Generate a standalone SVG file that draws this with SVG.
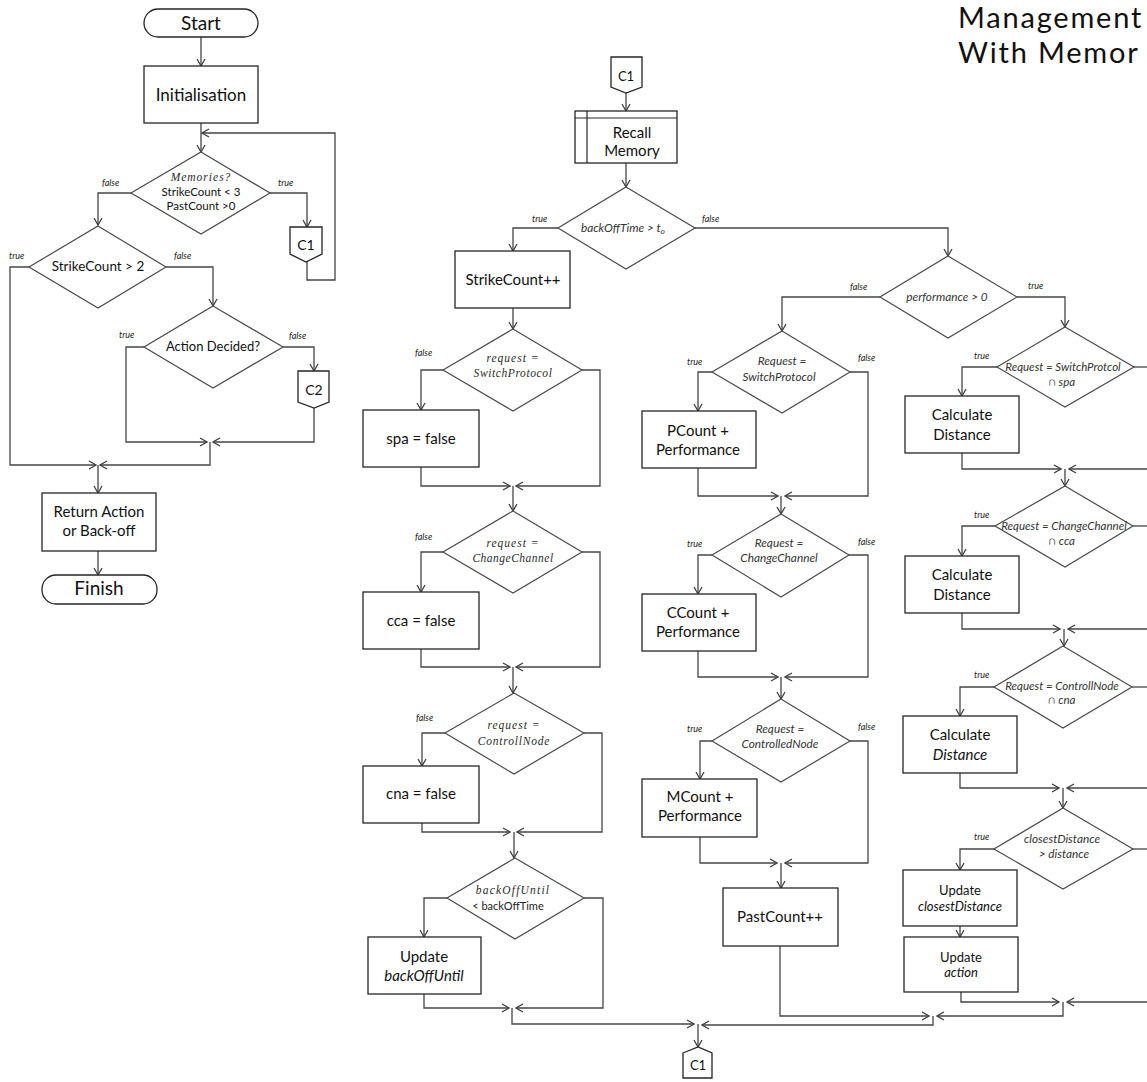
<svg xmlns="http://www.w3.org/2000/svg" width="1147" height="1082" viewBox="0 0 1147 1082">
  <defs>
    <marker id="arrow" viewBox="0 0 10 10" refX="9" refY="5" markerWidth="10" markerHeight="10" markerUnits="userSpaceOnUse" orient="auto">
      <path d="M2,1 L9,5 L2,9" fill="none" stroke="#404040" stroke-width="1.3"/>
    </marker>
    <style>
      .box { fill: #ffffff; stroke: #262626; stroke-width: 1.3; }
      .dia { fill: #ffffff; stroke: #4a4a4a; stroke-width: 1.2; }
      .con path { fill: none; stroke: #454545; stroke-width: 1.3; }
      .con .a { marker-end: url(#arrow); }
      text { font-family: Lato, "Open Sans", sans-serif; fill: #111111; text-anchor: middle; }
      .t { font-size: 15px; }
      .big { font-size: 19px; }
      .it { font-style: italic; }
      .d { font-size: 11.8px; font-style: italic; fill: #333333; }
      .dr { font-size: 11.5px; font-style: italic; fill: #333333; }
      .m { font-family: "Liberation Serif", "DejaVu Serif", serif; font-size: 11.5px; font-style: italic; letter-spacing: 1px; fill: #2a2a2a; }
      .tf { font-size: 9px; font-style: italic; text-anchor: start; fill: #222222; }
      .title { font-size: 29px; letter-spacing: 1.8px; text-anchor: start; fill: #111111; }
    </style>
  </defs>
  <rect width="1147" height="1082" fill="#ffffff"/>

  <!-- heading (runs past the right edge) -->
  <text class="title" x="958" y="28">Management</text>
  <text class="title" x="958" y="63">With Memor</text>

  <!-- connectors -->
  <g id="connectors" class="con">
    <!-- main routine -->
    <path class="a" d="M201,37 V66"/>
    <path class="a" d="M201,123 V152"/>
    <path class="a" d="M131,193 H98 V225"/>
    <path class="a" d="M270,193 H307 V227"/>
    <path class="a" d="M307,262 V280 H335 V133 H202"/>
    <path class="a" d="M29,267 H10 V465 H96"/>
    <path class="a" d="M166,267 H213 V306"/>
    <path class="a" d="M144,347 H126 V442 H207"/>
    <path class="a" d="M283,347 H314 V371"/>
    <path class="a" d="M314,408 V442 H213"/>
    <path class="a" d="M210,442 V465 H100"/>
    <path class="a" d="M98,465 V493"/>
    <path class="a" d="M98,551 V575"/>

    <!-- recall memory -->
    <path class="a" d="M626,93 V111"/>
    <path class="a" d="M626,163 V187"/>
    <path class="a" d="M558,228 H513 V251"/>
    <path class="a" d="M695,228 H948 V256"/>

    <!-- strike branch -->
    <path class="a" d="M513,308 V329"/>
    <path class="a" d="M443,370 H421 V410"/>
    <path class="a" d="M582,370 H600 V486 H516"/>
    <path class="a" d="M421,467 V486 H510"/>
    <path class="a" d="M513,486 V511"/>
    <path class="a" d="M443,552 H421 V592"/>
    <path class="a" d="M582,552 H600 V667 H516"/>
    <path class="a" d="M421,649 V667 H510"/>
    <path class="a" d="M513,667 V693"/>
    <path class="a" d="M445,733 H422 V766"/>
    <path class="a" d="M584,733 H602 V832 H517"/>
    <path class="a" d="M422,823 V832 H510"/>
    <path class="a" d="M514,832 V858"/>
    <path class="a" d="M447,898 H424 V937"/>
    <path class="a" d="M584,898 H603 V1008 H516"/>
    <path class="a" d="M424,994 V1008 H509"/>
    <path class="a" d="M512,1008 V1024 H694"/>
    <path class="a" d="M698,1024 V1047"/>

    <!-- performance > 0, false side -->
    <path class="a" d="M880,297 H782 V331"/>
    <path class="a" d="M1017,297 H1065 V327"/>
    <path class="a" d="M712,372 H698 V411"/>
    <path class="a" d="M850,372 H868 V496 H785"/>
    <path class="a" d="M698,468 V496 H778"/>
    <path class="a" d="M781,496 V514"/>
    <path class="a" d="M712,555 H698 V594"/>
    <path class="a" d="M849,555 H868 V677 H785"/>
    <path class="a" d="M698,651 V677 H778"/>
    <path class="a" d="M781,677 V699"/>
    <path class="a" d="M712,741 H700 V779"/>
    <path class="a" d="M850,741 H868 V863 H785"/>
    <path class="a" d="M700,837 V863 H777"/>
    <path class="a" d="M781,863 V888"/>
    <path class="a" d="M780,946 V1016 H929"/>
    <path class="a" d="M933,1016 V1025 H702"/>

    <!-- performance > 0, true side -->
    <path class="a" d="M997,367 H962 V396"/>
    <path d="M1134,367 H1160"/>
    <path class="a" d="M1160,469 H1069"/>
    <path class="a" d="M962,453 V469 H1061"/>
    <path class="a" d="M1065,469 V486"/>
    <path class="a" d="M995,526 H962 V556"/>
    <path d="M1133,526 H1160"/>
    <path class="a" d="M1160,629 H1068"/>
    <path class="a" d="M962,613 V629 H1060"/>
    <path class="a" d="M1064,629 V646"/>
    <path class="a" d="M994,687 H960 V716"/>
    <path d="M1132,687 H1160"/>
    <path class="a" d="M1160,788 H1067"/>
    <path class="a" d="M960,773 V788 H1059"/>
    <path class="a" d="M1063,788 V808"/>
    <path class="a" d="M994,849 H960 V870"/>
    <path d="M1133,849 H1160"/>
    <path class="a" d="M960,926 V937"/>
    <path class="a" d="M1160,1002 H1067"/>
    <path class="a" d="M961,992 V1002 H1059"/>
    <path class="a" d="M1063,1002 V1016 H937"/>
  </g>

  <!-- branch labels -->
  <g id="branch-labels">
    <text class="tf" x="102" y="186">false</text>
    <text class="tf" x="278" y="186">true</text>
    <text class="tf" x="9" y="259">true</text>
    <text class="tf" x="174" y="259">false</text>
    <text class="tf" x="119" y="338">true</text>
    <text class="tf" x="289" y="339">false</text>
    <text class="tf" x="532" y="222">true</text>
    <text class="tf" x="702" y="222">false</text>
    <text class="tf" x="415" y="356">false</text>
    <text class="tf" x="415" y="540">false</text>
    <text class="tf" x="416" y="721">false</text>
    <text class="tf" x="850" y="290">false</text>
    <text class="tf" x="1028" y="289">true</text>
    <text class="tf" x="687" y="365">true</text>
    <text class="tf" x="858" y="361">false</text>
    <text class="tf" x="687" y="547">true</text>
    <text class="tf" x="858" y="545">false</text>
    <text class="tf" x="687" y="732">true</text>
    <text class="tf" x="858" y="730">false</text>
    <text class="tf" x="974" y="359">true</text>
    <text class="tf" x="974" y="518">true</text>
    <text class="tf" x="974" y="678">true</text>
    <text class="tf" x="974" y="840">true</text>
  </g>

  <!-- main routine -->
  <g id="start">
    <rect class="box" x="144" y="9" width="114" height="28" rx="14"/>
    <text class="big" x="201" y="30">Start</text>
  </g>
  <g id="initialisation">
    <rect class="box" x="144" y="66" width="114" height="57"/>
    <text x="201" y="101" style="font-size:17px">Initialisation</text>
  </g>
  <g id="memories">
    <polygon class="dia" points="201,152 270,193 201,234 131,193"/>
    <text class="m" x="201" y="181">Memories?</text>
    <text x="201" y="196" style="font-size:11.5px">StrikeCount &lt; 3</text>
    <text x="201" y="210" style="font-size:11.5px">PastCount &gt;0</text>
  </g>
  <g id="c1-out">
    <polygon class="box" points="290,227 322,227 322,254 306,262 290,254"/>
    <text x="306" y="250" style="font-size:14px">C1</text>
  </g>
  <g id="strike-check">
    <polygon class="dia" points="98,226 166,267 98,308 29,267"/>
    <text x="98" y="271" style="font-size:13.5px">StrikeCount &gt; 2</text>
  </g>
  <g id="action-decided">
    <polygon class="dia" points="213,306 283,347 213,388 144,347"/>
    <text x="213" y="351" style="font-size:13px">Action Decided?</text>
  </g>
  <g id="c2-out">
    <polygon class="box" points="298,371 329,371 329,402 314,408 298,402"/>
    <text x="314" y="395" style="font-size:14px">C2</text>
  </g>
  <g id="return-action">
    <rect class="box" x="42" y="493" width="114" height="58"/>
    <text class="t" x="99" y="517">Return Action</text>
    <text class="t" x="99" y="536">or Back-off</text>
  </g>
  <g id="finish">
    <rect class="box" x="42" y="575" width="115" height="29" rx="14"/>
    <text class="big" x="99" y="595">Finish</text>
  </g>

  <!-- recall memory routine -->
  <g id="c1-in">
    <polygon class="box" points="611,57 642,57 642,87 626,93 611,87"/>
    <text x="626" y="81" style="font-size:13px">C1</text>
  </g>
  <g id="recall-memory">
    <rect class="box" x="575" y="111" width="102" height="52"/>
    <line x1="575" y1="118" x2="677" y2="118" stroke="#262626" stroke-width="1.2"/>
    <line x1="587" y1="111" x2="587" y2="163" stroke="#262626" stroke-width="1.2"/>
    <text class="t" x="632" y="138">Recall</text>
    <text class="t" x="632" y="156">Memory</text>
  </g>
  <g id="backoff-time">
    <polygon class="dia" points="626,187 695,228 626,269 558,228"/>
    <text class="d" x="623" y="232">backOffTime  &gt; t<tspan dy="2" font-size="8.5">o</tspan></text>
  </g>
  <g id="strike-inc">
    <rect class="box" x="455" y="251" width="115" height="57"/>
    <text class="t" x="513" y="285">StrikeCount++</text>
  </g>
  <g id="req-sp-strike">
    <polygon class="dia" points="513,329 582,370 513,411 443,370"/>
    <text class="m" x="513" y="362">request =</text>
    <text class="m" x="513" y="377" style="letter-spacing:0.6px">SwitchProtocol</text>
  </g>
  <g id="spa-false">
    <rect class="box" x="363" y="410" width="116" height="57"/>
    <text class="t" x="421" y="444">spa = false</text>
  </g>
  <g id="req-cc-strike">
    <polygon class="dia" points="513,511 582,552 513,593 443,552"/>
    <text class="m" x="513" y="547">request =</text>
    <text class="m" x="513" y="562" style="letter-spacing:0.5px">ChangeChannel</text>
  </g>
  <g id="cca-false">
    <rect class="box" x="363" y="592" width="116" height="57"/>
    <text class="t" x="421" y="626">cca = false</text>
  </g>
  <g id="req-cn-strike">
    <polygon class="dia" points="514,693 584,733 514,774 445,733"/>
    <text class="m" x="514" y="729">request =</text>
    <text class="m" x="514" y="745" style="letter-spacing:0.8px">ControllNode</text>
  </g>
  <g id="cna-false">
    <rect class="box" x="363" y="766" width="116" height="57"/>
    <text class="t" x="421" y="799">cna = false</text>
  </g>
  <g id="backoff-until">
    <polygon class="dia" points="515,858 584,898 515,939 447,898"/>
    <text class="m" x="513" y="894" style="letter-spacing:1.2px">backOffUntil</text>
    <text x="508" y="910" style="font-size:11px;fill:#222222">&lt; backOffTime</text>
  </g>
  <g id="update-backoff">
    <rect class="box" x="368" y="937" width="113" height="57"/>
    <text class="t" x="424" y="962">Update</text>
    <text class="t it" x="424" y="981">backOffUntil</text>
  </g>
  <g id="c1-return">
    <polygon class="box" points="683,1053 698,1047 712,1053 712,1078 683,1078"/>
    <text x="698" y="1070" style="font-size:13px">C1</text>
  </g>

  <!-- performance check -->
  <g id="performance">
    <polygon class="dia" points="948,256 1017,297 948,338 880,297"/>
    <text class="d" x="947" y="301">performance &gt; 0</text>
  </g>
  <g id="req-sp-count">
    <polygon class="dia" points="782,331 850,372 782,413 712,372"/>
    <text class="d" x="782" y="365">Request =</text>
    <text class="d" x="779" y="381">SwitchProtocol</text>
  </g>
  <g id="pcount">
    <rect class="box" x="642" y="411" width="114" height="57"/>
    <text class="t" x="698" y="436">PCount +</text>
    <text class="t" x="698" y="455">Performance</text>
  </g>
  <g id="req-cc-count">
    <polygon class="dia" points="781,514 849,555 781,597 712,555"/>
    <text class="d" x="779" y="547">Request =</text>
    <text class="d" x="779" y="562">ChangeChannel</text>
  </g>
  <g id="ccount">
    <rect class="box" x="642" y="594" width="114" height="57"/>
    <text class="t" x="698" y="618">CCount +</text>
    <text class="t" x="698" y="637">Performance</text>
  </g>
  <g id="req-cn-count">
    <polygon class="dia" points="781,699 850,741 781,782 712,741"/>
    <text class="d" x="780" y="733">Request =</text>
    <text class="d" x="780" y="748">ControlledNode</text>
  </g>
  <g id="mcount">
    <rect class="box" x="642" y="779" width="115" height="58"/>
    <text class="t" x="700" y="802">MCount +</text>
    <text class="t" x="700" y="821">Performance</text>
  </g>
  <g id="pastcount">
    <rect class="box" x="723" y="888" width="115" height="58"/>
    <text class="t" x="780" y="922">PastCount++</text>
  </g>

  <!-- distance checks -->
  <g id="req-sp-spa">
    <polygon class="dia" points="1065,327 1134,367 1065,407 997,367"/>
    <text class="dr" x="1063" y="371">Request  = SwitchProtcol</text>
    <text class="dr" x="1062" y="386">∩ spa</text>
  </g>
  <g id="distance-sp">
    <rect class="box" x="905" y="396" width="114" height="57"/>
    <text class="t" x="962" y="420">Calculate</text>
    <text class="t" x="962" y="440">Distance</text>
  </g>
  <g id="req-cc-cca">
    <polygon class="dia" points="1065,486 1133,526 1065,567 995,526"/>
    <text class="dr" x="1064" y="530">Request  = ChangeChannel</text>
    <text class="dr" x="1062" y="545">∩   cca</text>
  </g>
  <g id="distance-cc">
    <rect class="box" x="905" y="556" width="114" height="57"/>
    <text class="t" x="962" y="580">Calculate</text>
    <text class="t" x="962" y="600">Distance</text>
  </g>
  <g id="req-cn-cna">
    <polygon class="dia" points="1063,646 1132,687 1063,728 994,687"/>
    <text class="dr" x="1062" y="690">Request  = ControllNode</text>
    <text class="dr" x="1062" y="704">∩ cna</text>
  </g>
  <g id="distance-cn">
    <rect class="box" x="903" y="716" width="114" height="57"/>
    <text class="t" x="960" y="740">Calculate</text>
    <text class="t it" x="960" y="760">Distance</text>
  </g>
  <g id="closest-check">
    <polygon class="dia" points="1063,808 1133,849 1063,889 994,849"/>
    <text class="d" x="1062" y="843">closestDistance</text>
    <text class="d" x="1064" y="858">&gt; distance</text>
  </g>
  <g id="update-closest">
    <rect class="box" x="903" y="870" width="114" height="56"/>
    <text x="960" y="895" style="font-size:13px">Update</text>
    <text class="it" x="960" y="911" style="font-size:13px">closestDistance</text>
  </g>
  <g id="update-action">
    <rect class="box" x="904" y="937" width="114" height="55"/>
    <text x="961" y="962" style="font-size:13px">Update</text>
    <text class="it" x="961" y="977" style="font-size:13px">action</text>
  </g>
</svg>
